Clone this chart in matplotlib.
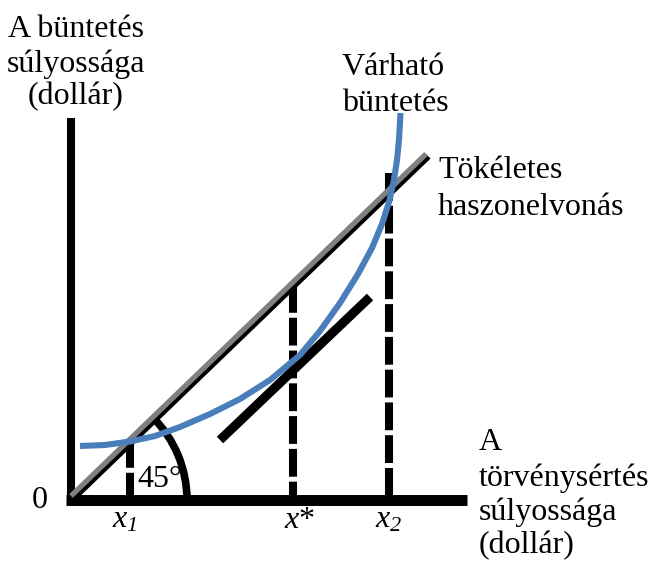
import matplotlib
matplotlib.use("Agg")
import matplotlib.pyplot as plt
from matplotlib.patches import Arc

plt.rcParams['font.family'] = ['Liberation Serif', 'DejaVu Serif']
plt.rcParams['mathtext.fontset'] = 'custom'
plt.rcParams['mathtext.it'] = 'Liberation Serif:italic'
plt.rcParams['mathtext.rm'] = 'Liberation Serif:italic'
plt.rcParams['lines.scale_dashes'] = False

# ---- data (diagram units: origin at the corner of the axes) ----
curve_x = [10, 35, 60, 85, 110, 140, 170, 200, 230, 250, 270, 288, 302, 312, 319, 324, 327, 329, 330.5]
curve_y = [54, 55, 58.5, 64, 73, 86, 101, 120, 145, 169, 197, 226, 252, 276, 298, 320, 340, 360, 387]

diag_x = [2, 357]
diag_y = [3, 345]

tangent_x = [150, 300]
tangent_y = [60, 203]

marks = ['x1', 'x*', 'x2']
mark_x = [60, 223, 319]
mark_top = [60, 215, 327]
mark_labels = [r'$x_1$', r'$x$*', r'$x_2$']

yaxis_x = [1, 1]
yaxis_y = [-5, 382]
xaxis_x = [-4, 397]
xaxis_y = [0, 0]

fig = plt.figure(figsize=(6.51, 5.63), dpi=100)
ax = fig.add_axes([0, 0, 1, 1])
ax.set_xlim(-70, 581)
ax.set_ylim(-63, 500)
ax.axis('off')

# axes
ax.plot(yaxis_x, yaxis_y, color='black', lw=5.8, solid_capstyle='butt', zorder=3)
ax.plot(xaxis_x, xaxis_y, color='black', lw=7.9, solid_capstyle='butt', zorder=3)

# 45 degree arc
ax.add_patch(Arc((0, 0), 234, 234, theta1=0, theta2=45, color='black', lw=5.5, zorder=2))

# dashed guide lines
for x, top in zip(mark_x, mark_top):
    ax.plot([x, x], [top, 0], color='black', lw=5.8, dashes=(20, 3.6),
            solid_capstyle='butt', dash_capstyle='butt', zorder=3)

# 45-degree line (black shadow + gray)
ax.plot([d + 1.0 for d in diag_x], [d - 1.0 for d in diag_y], color='black', lw=5.2,
        solid_capstyle='butt', zorder=4)
ax.plot([d - 1.0 for d in diag_x], [d + 1.0 for d in diag_y], color='#808080', lw=3.8,
        solid_capstyle='butt', zorder=5)

# tangent line
ax.plot(tangent_x, tangent_y, color='black', lw=6.6, solid_capstyle='butt', zorder=4)

# expected punishment curve
ax.plot(curve_x, curve_y, color='#4a7ebb', lw=4.4, solid_capstyle='butt',
        solid_joinstyle='round', zorder=6)

fs = 23
def px(x):
    return x - 70
def py(y):
    return 500 - y

# y-axis label
for txt, b in zip(['A büntetés', 'súlyossága', '(dollár)'], [37, 72, 104]):
    ax.text(px(76), py(b), txt, ha='center', va='baseline', fontsize=fs)

# curve label
for txt, b in zip(['Várható', 'büntetés'], [75, 111]):
    ax.text(px(342), py(b), txt, ha='left', va='baseline', fontsize=fs)

# diagonal label
for txt, b in zip(['Tökéletes', 'haszonelvonás'], [178, 215]):
    ax.text(px(438), py(b), txt, ha='left', va='baseline', fontsize=fs)

# x-axis label
for txt, b in zip(['A', 'törvénysértés', 'súlyossága', '(dollár)'], [450, 486, 520, 553]):
    ax.text(px(479), py(b), txt, ha='left', va='baseline', fontsize=fs)

ax.text(px(40), py(508), '0', ha='center', va='baseline', fontsize=fs)
ax.text(px(160), py(487), '45°', ha='center', va='baseline', fontsize=fs)

label_cx = [125, 300, 389]
for lab, cx in zip(mark_labels, label_cx):
    ax.text(px(cx), py(528), lab, ha='center', va='baseline', fontsize=fs)

fig.savefig('out.png', dpi=100)
